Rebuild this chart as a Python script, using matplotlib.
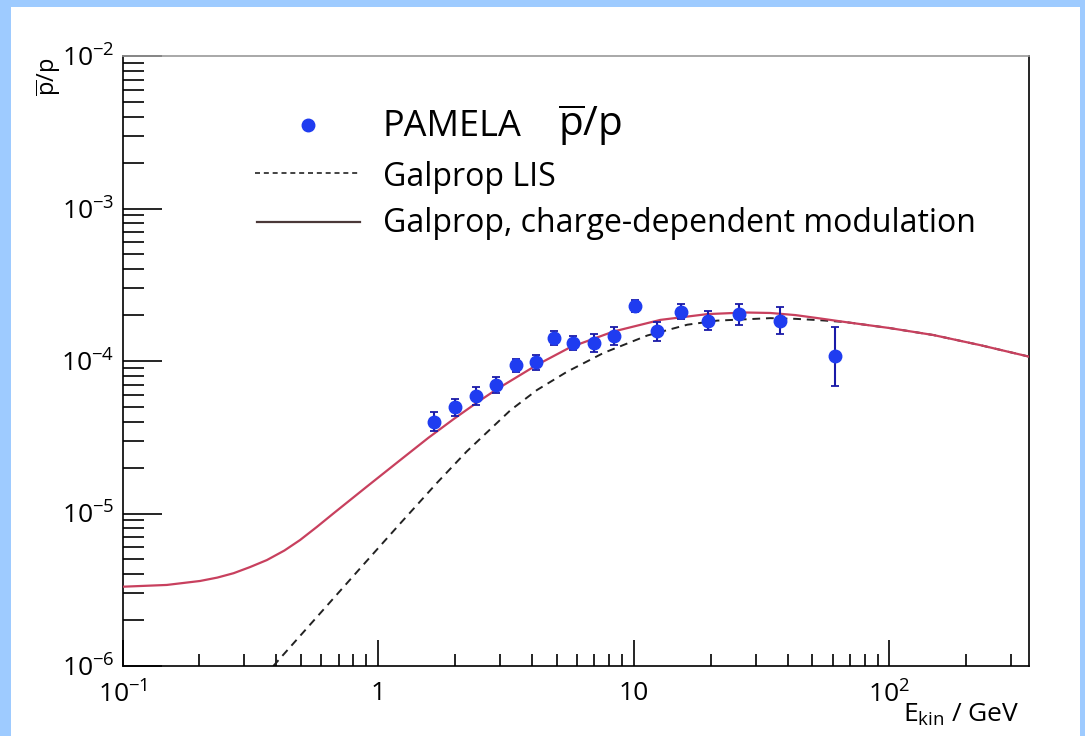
import numpy as np
import matplotlib
matplotlib.use("Agg")
import matplotlib.pyplot as plt
from matplotlib.lines import Line2D
from matplotlib.patches import Rectangle
from matplotlib.ticker import LogLocator, FixedLocator, NullFormatter


plt.rcParams['font.family'] = ['Open Sans', 'DejaVu Sans']
plt.rcParams['mathtext.fontset'] = 'custom'
plt.rcParams['mathtext.rm'] = 'Open Sans'
plt.rcParams['mathtext.it'] = 'Open Sans:italic'


# %% data

# PAMELA pbar/p measurements
pamela_e = [1.65, 1.99, 2.41, 2.90, 3.47, 4.13, 4.89, 5.81, 6.96, 8.34,
            10.1, 12.3, 15.3, 19.6, 25.9, 37.2, 61.1]
pamela_ratio = [4.0e-5, 4.97e-5, 5.92e-5, 6.99e-5, 9.37e-5, 9.80e-5, 1.42e-4, 1.32e-4, 1.32e-4, 1.46e-4,
                2.30e-4, 1.57e-4, 2.11e-4, 1.84e-4, 2.02e-4, 1.84e-4, 1.08e-4]
pamela_err_lo = [0.55e-5, 0.6e-5, 0.75e-5, 0.85e-5, 0.95e-5, 1.05e-5, 1.4e-5, 1.35e-5, 1.7e-5, 1.9e-5,
                 2.1e-5, 2.2e-5, 2.3e-5, 2.5e-5, 3.0e-5, 3.3e-5, 3.9e-5]
pamela_err_hi = [0.6e-5, 0.65e-5, 0.8e-5, 0.9e-5, 1.0e-5, 1.1e-5, 1.5e-5, 1.45e-5, 1.8e-5, 2.0e-5,
                 2.3e-5, 2.4e-5, 2.5e-5, 2.8e-5, 3.4e-5, 4.3e-5, 6.0e-5]

# Galprop, charge-dependent modulation (solid)
mod_e = [0.1, 0.149, 0.201, 0.235, 0.272, 0.315, 0.367, 0.43, 0.495, 0.575, 0.668, 0.903, 1.22,
         1.57, 1.97, 2.44, 2.92, 4.19, 5.64, 8.32, 12.7, 19.4, 27.3, 34.2, 42.9, 53.7, 67.3,
         100.0, 148.6, 227.0, 350.0]
mod_ratio = [3.31e-6, 3.40e-6, 3.61e-6, 3.80e-6, 4.06e-6, 4.45e-6, 4.95e-6, 5.72e-6, 6.70e-6, 8.15e-6,
             1.0e-5, 1.50e-5, 2.24e-5, 3.13e-5, 4.15e-5, 5.35e-5, 6.55e-5, 9.45e-5, 1.23e-4, 1.56e-4,
             1.86e-4, 2.03e-4, 2.08e-4, 2.065e-4, 2.00e-4, 1.90e-4, 1.80e-4, 1.645e-4, 1.48e-4,
             1.27e-4, 1.07e-4]

# Galprop LIS (dashed)
lis_e = [0.389, 0.889, 1.22, 1.7, 2.22, 3.29, 4.18, 5.48, 7.62, 11.3, 16.2, 21.2, 34.2,
         42.9, 53.7, 67.3, 100.0, 148.6, 227.0, 350.0]
lis_ratio = [1.0e-6, 4.75e-6, 8.6e-6, 1.59e-5, 2.55e-5, 4.75e-5, 6.45e-5, 8.5e-5, 1.13e-4, 1.47e-4,
             1.73e-4, 1.84e-4, 1.91e-4, 1.89e-4, 1.85e-4, 1.80e-4, 1.645e-4, 1.48e-4, 1.27e-4, 1.07e-4]


# %% figure

W, H = 1085, 736
fig = plt.figure(figsize=(W / 100, H / 100), dpi=100, facecolor='#9ecbff')
fig.add_artist(Rectangle((11 / W, 0), (1080 - 11) / W, 1 - 7 / H, transform=fig.transFigure,
                         facecolor='white', edgecolor='none', zorder=-5))

ax = fig.add_axes([122.5 / W, 1 - 666 / H, (1028.5 - 122.5) / W, (666 - 56) / H])
ax.set_facecolor('white')
ax.set_xscale('log')
ax.set_yscale('log')
ax.set_xlim(0.1, 350)
ax.set_ylim(1e-6, 1e-2)

ax.plot(lis_e, lis_ratio, color='#222222', linestyle=(0, (4, 3)), lw=1.4, zorder=2)
ax.plot(mod_e, mod_ratio, color='#c8405e', lw=1.6, zorder=3)
ax.errorbar(pamela_e, pamela_ratio, yerr=[pamela_err_lo, pamela_err_hi], fmt='o', color='#1f3cf0',
            ecolor='#1a1aa8', elinewidth=1.5, capsize=3, capthick=1.3, markersize=9, zorder=4)

# spines: ROOT-like frame
ax.spines['top'].set_color('#9a9a9a')
for s in ['left', 'bottom', 'right']:
    ax.spines[s].set_color('black')
for s in ax.spines.values():
    s.set_linewidth(1.2)

# ticks
ax.xaxis.set_major_locator(FixedLocator([0.1, 1, 10, 100]))
ax.xaxis.set_minor_locator(LogLocator(base=10, subs=np.arange(2, 10)))
ax.yaxis.set_major_locator(FixedLocator([1e-6, 1e-5, 1e-4, 1e-3, 1e-2]))
ax.yaxis.set_minor_locator(LogLocator(base=10, subs=np.arange(2, 10)))
ax.xaxis.set_minor_formatter(NullFormatter())
ax.yaxis.set_minor_formatter(NullFormatter())
ax.set_xticklabels([r'$10^{-1}$', '1', '10', r'$10^{2}$'])
ax.set_yticklabels([r'$10^{-6}$', r'$10^{-5}$', r'$10^{-4}$', r'$10^{-3}$', r'$10^{-2}$'])

ax.tick_params(axis='x', which='major', direction='in', length=19, width=1.2, labelsize=19, pad=11,
               top=False)
ax.tick_params(axis='x', which='minor', direction='in', length=9, width=1.2, top=False)
ax.tick_params(axis='y', which='major', direction='in', length=28, width=1.2, labelsize=19, pad=6,
               right=False)
ax.tick_params(axis='y', which='minor', direction='in', length=15, width=1.2, right=False)

# axis titles, ROOT style
fig.text(903 / W, 1 - 722 / H, r'$\mathrm{E}_{\mathrm{kin}}$ / GeV', fontsize=19,
         ha='left', va='baseline')
fig.text(49 / W, 1 - 58 / H, r'$\overline{\mathrm{p}}/\mathrm{p}$', rotation=90, fontsize=17,
         ha='center', va='top')

# legend drawn by hand
fig.add_artist(Line2D([308 / W], [1 - 125 / H], transform=fig.transFigure, marker='o',
                      linestyle='None', color='#1f3cf0', markersize=9))
fig.text(383 / W, 1 - 127 / H, 'PAMELA', fontsize=26, ha='left', va='center')
fig.text(558 / W, 1 - 125 / H, r'$\overline{\mathrm{p}}/\mathrm{p}$', fontsize=29,
         ha='left', va='center')
fig.add_artist(Line2D([255 / W, 360 / W], [1 - 173 / H] * 2, transform=fig.transFigure,
                      color='#222222', linestyle=(0, (3, 2.3)), lw=1.2))
fig.text(383 / W, 1 - 177 / H, 'Galprop LIS', fontsize=23, ha='left', va='center')
fig.add_artist(Line2D([257 / W, 360 / W], [1 - 222 / H] * 2, transform=fig.transFigure,
                      color='#4a3838', lw=1.6))
fig.text(383 / W, 1 - 224 / H, 'Galprop, charge-dependent modulation', fontsize=23,
         ha='left', va='center')

fig.savefig('out.png', dpi=100, facecolor=fig.get_facecolor())
